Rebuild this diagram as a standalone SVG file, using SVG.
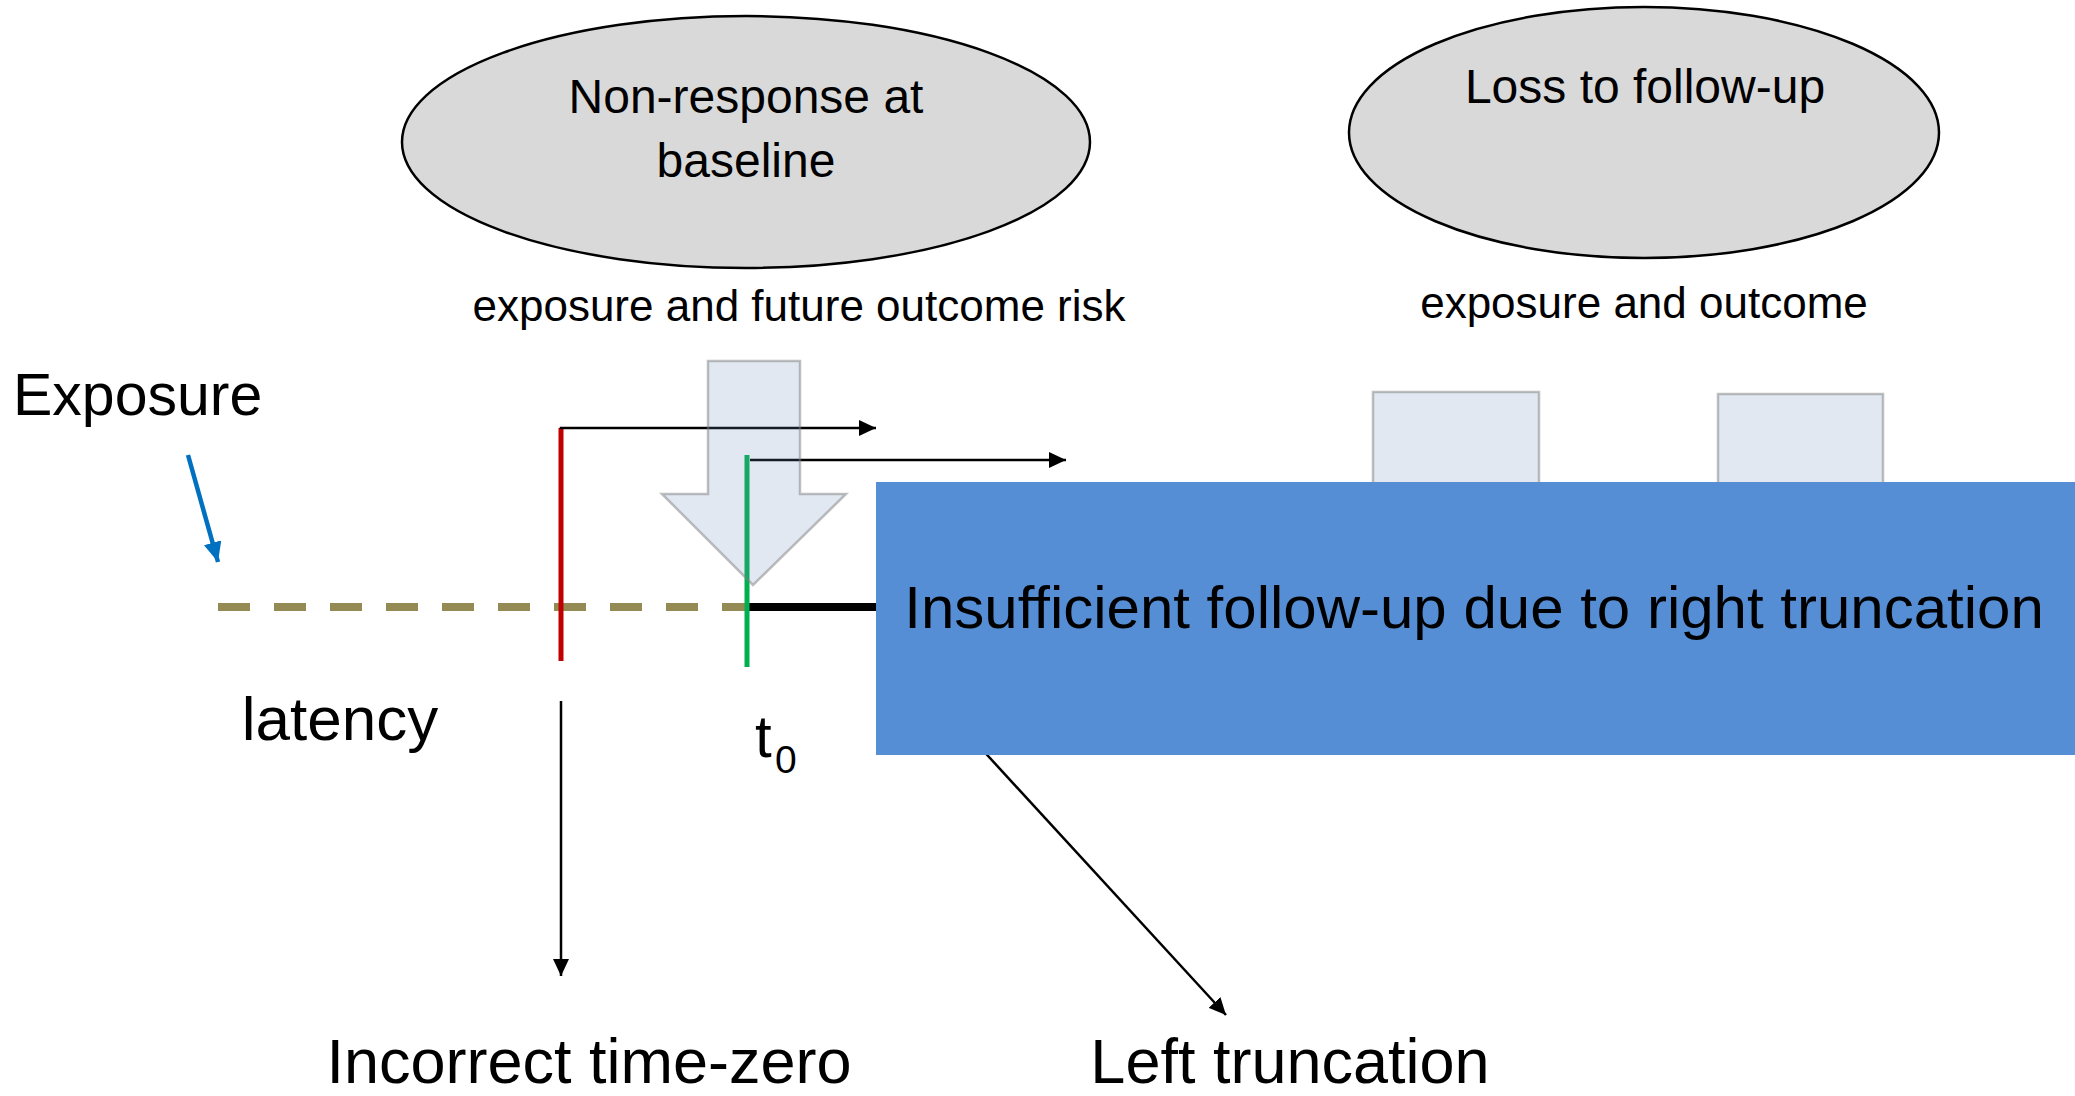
<svg xmlns="http://www.w3.org/2000/svg" width="2075" height="1096" viewBox="0 0 2075 1096">
<defs>
<style>
text { font-family: "Liberation Sans", Arial, sans-serif; fill: #000; }
.oval { fill: #d9d9d9; stroke: #000; stroke-width: 2.5; }
.ghost { fill: #698cbe; fill-opacity: 0.2; stroke: #7f7f7f; stroke-opacity: 0.5; stroke-width: 2.5; }
.conn { stroke: #000; stroke-width: 2.5; fill: none; }
.blue { stroke: #0070c0; stroke-width: 4.5; fill: none; }
</style>
<marker id="ah" markerUnits="userSpaceOnUse" markerWidth="18" markerHeight="16" refX="17" refY="8" orient="auto">
<path d="M0,0 L17,8 L0,16 z" fill="#000"/>
</marker>
<marker id="ahb" markerUnits="userSpaceOnUse" markerWidth="20" markerHeight="18" refX="20" refY="9" orient="auto">
<path d="M0,0 L20,9 L0,18 z" fill="#0070c0"/>
</marker>
</defs>
<rect width="2075" height="1096" fill="#fff"/>

<g id="nonresponse">
<ellipse class="oval" cx="746" cy="142" rx="344" ry="126"/>
<text x="746" y="113" font-size="48" text-anchor="middle">Non-response at</text>
<text x="746" y="177" font-size="48" text-anchor="middle">baseline</text>
</g>
<g id="nonresponse-label">
<text x="799" y="321" font-size="44" text-anchor="middle">exposure and future outcome risk</text>
</g>

<g id="loss">
<ellipse class="oval" cx="1644" cy="132.5" rx="295" ry="125.5"/>
<text x="1645" y="103" font-size="48" text-anchor="middle">Loss to follow-up</text>
</g>
<g id="loss-label">
<text x="1644" y="318" font-size="44" text-anchor="middle">exposure and outcome</text>
</g>

<g id="exposure-label">
<text x="13" y="415" font-size="59">Exposure</text>
</g>

<g id="timeline">
<line x1="218" y1="607" x2="748" y2="607" stroke="#948a54" stroke-width="8" stroke-dasharray="32 24"/>
<line x1="748" y1="607" x2="878" y2="607" stroke="#000" stroke-width="8"/>
<line x1="561" y1="428" x2="561" y2="661" stroke="#c00000" stroke-width="5"/>
<line x1="747" y1="455" x2="747" y2="667" stroke="#00b050" stroke-width="5"/>
</g>

<g id="connectors">
<line class="blue" x1="188" y1="455" x2="218" y2="562" marker-end="url(#ahb)"/>
<polyline class="conn" points="561,429 561,428 876,428" marker-end="url(#ah)"/>
<line class="conn" x1="750" y1="460" x2="1066" y2="460" marker-end="url(#ah)"/>
<line class="conn" x1="561" y1="701" x2="561" y2="976" marker-end="url(#ah)"/>
<line class="conn" x1="978" y1="745" x2="1226" y2="1015" marker-end="url(#ah)"/>
</g>

<g id="baseline-arrow">
<path class="ghost" d="M708,361 L800,361 L800,494 L846,494 L753,585 L662,494 L708,494 Z"/>
</g>

<g id="t0-label">
<text x="755" y="757" font-size="60">t</text>
<text x="775" y="773" font-size="39">0</text>
</g>

<g id="latency-label">
<text x="340" y="740" font-size="62" text-anchor="middle">latency</text>
</g>

<g id="followup-marker-1">
<rect class="ghost" x="1373" y="392" width="166" height="110"/>
</g>
<g id="followup-marker-2">
<rect class="ghost" x="1718" y="394" width="165" height="110"/>
</g>

<g id="right-truncation">
<rect x="876" y="482" width="1199" height="273" fill="#558ed5"/>
<text x="1474" y="628" font-size="60" text-anchor="middle">Insufficient follow-up due to right truncation</text>
</g>

<g id="incorrect-time-zero">
<text x="589" y="1083" font-size="63" text-anchor="middle">Incorrect time-zero</text>
</g>
<g id="left-truncation">
<text x="1290" y="1083" font-size="63" text-anchor="middle">Left truncation</text>
</g>
</svg>
